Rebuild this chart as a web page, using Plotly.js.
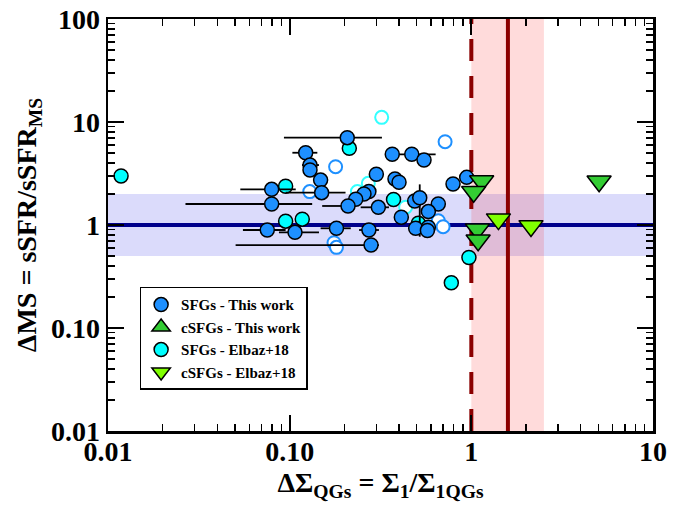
<!DOCTYPE html>
<html>
<head>
<meta charset="utf-8">
<script src="https://cdn.plot.ly/plotly-3.0.1.min.js"></script>
<style>html,body{margin:0;padding:0;background:#fff;}</style>
</head>
<body>
<div id="chart" style="width:697px;height:510px;"></div>
<script>
// ---- Data ----
// SFGs - This work (filled blue circles), with horizontal error bars
const sfgX  = [0.0796,0.0796,0.0753,0.107,0.1225,0.1294,0.1294,0.148,0.150,0.2075,0.300,0.367,0.470,0.549,0.380,0.400,0.273,0.2565,0.231,0.2095,0.3077,0.4117,0.488,0.520,0.658,0.580,0.793,0.943,0.494,0.580,0.573,0.181,0.273,0.2805];
const sfgY  = [2.22,1.60,0.894,0.849,5.03,3.82,3.42,2.73,2.06,7.04,3.11,4.86,4.86,4.28,2.80,2.60,2.11,2.00,1.78,1.53,1.485,1.19,1.71,1.84,1.60,1.35,2.50,2.90,0.929,0.950,0.885,0.929,0.894,0.639];
const sfgXlo = [0.0535,0.0267,0.0553,0.0873,0.1035,0.117,null,null,0.095,0.093,null,null,0.367,null,null,null,null,null,null,0.151,0.246,null,null,null,null,null,null,null,null,null,null,0.148,0.241,0.0504];
const sfgXhi = [0.108,0.133,0.095,0.145,0.142,0.145,null,null,0.203,0.322,null,null,0.636,null,null,null,null,null,null,0.212,0.352,null,null,null,null,null,null,null,null,null,null,0.217,0.310,0.310];
const sfgYlo = [null,null,null,null,null,null,null,null,null,null,null,null,null,null,null,null,null,null,null,null,null,null,null,0.77,null,null,null,null,null,null,null,null,null,null];
const sfgYhi = [null,null,null,null,null,null,null,null,null,null,null,null,null,null,null,null,null,null,null,null,null,null,null,2.48,null,null,null,null,null,null,null,null,null,null];

// SFGs - This work, open symbols
const sfgOpenX = [0.717,0.179,0.129,0.658,0.699,0.1754,0.181];
const sfgOpenY = [6.44,3.68,2.11,1.10,0.963,0.673,0.607];

// cSFGs - This work (green triangles)
const csfgX = [1.14,1.03,1.08,1.09,5.05];
const csfgY = [2.67,2.10,0.91,0.71,2.66];

// SFGs - Elbaz+18 (filled cyan circles)
const elbX = [0.0118,0.095,0.095,0.1173,0.213,0.373,0.511,0.97,0.776];
const elbY = [2.99,2.38,1.09,1.14,5.55,1.77,1.04,0.484,0.275];

// SFGs - Elbaz+18, open symbols
const elbOpenX = [0.321,0.271,0.236,0.435];
const elbOpenY = [11.1,2.54,2.11,1.49];

// cSFGs - Elbaz+18 (lime triangles)
const celbX = [1.41,2.13];
const celbY = [1.14,0.98];

// Reference lines / bands
const msLine = 1, msBandLo = 0.5, msBandHi = 2;
const qgDash = 1, qgLine = 1.59, qgBandHi = 2.51;

const xTickAlias = {"0.1": "0.10"};
const yTickAlias = {"0.1": "0.10"};

// ---- Build traces ----
function diffs(v, ref, sign){
  return v.map((b,i)=> b===null ? NaN : sign*(b - ref[i]));
}
function minorVals(d0, d1){
  const out = [];
  for (let e = d0; e < d1; e++) for (let m = 2; m <= 9; m++) out.push(m * Math.pow(10, e));
  return out;
}
const FONT = "Liberation Serif, Times New Roman, serif";

const traces = [
  {x: elbOpenX, y: elbOpenY, type:'scatter', mode:'markers', showlegend:false,
   marker:{symbol:'circle', size:13, color:'#ffffff', line:{color:'#33ffff', width:2}}},
  {x: sfgOpenX, y: sfgOpenY, type:'scatter', mode:'markers', showlegend:false,
   marker:{symbol:'circle', size:13, color:'#ffffff', line:{color:'#1e90ff', width:2}}},
  {x: elbX, y: elbY, type:'scatter', mode:'markers', name:'SFGs - Elbaz+18', legendrank:3,
   marker:{symbol:'circle', size:14, color:'#00ffff', line:{color:'#000', width:1.5}}},
  {x: sfgX, y: sfgY, type:'scatter', mode:'markers', name:'SFGs - This work', legendrank:1,
   marker:{symbol:'circle', size:14, color:'#1e90ff', line:{color:'#000', width:1.5}},
   error_x:{type:'data', symmetric:false, array:diffs(sfgXhi, sfgX, 1), arrayminus:diffs(sfgXlo, sfgX, -1),
            color:'#000', thickness:1.8, width:0},
   error_y:{type:'data', symmetric:false, array:diffs(sfgYhi, sfgY, 1), arrayminus:diffs(sfgYlo, sfgY, -1),
            color:'#000', thickness:1.8, width:0}},
  {x: csfgX, y: csfgY, type:'scatter', mode:'markers', showlegend:false,
   marker:{symbol:'triangle-down', size:21, color:'#33cc33', line:{color:'#000', width:1.5}}},
  {x: [null], y: [null], type:'scatter', mode:'markers', name:'cSFGs - This work', legendrank:2,
   marker:{symbol:'triangle-up', size:21, color:'#33cc33', line:{color:'#000', width:1.5}}},
  {x: celbX, y: celbY, type:'scatter', mode:'markers', name:'cSFGs - Elbaz+18', legendrank:4,
   marker:{symbol:'triangle-down', size:21, color:'#80ff00', line:{color:'#000', width:1.5}}}
];

const shapes = [
  {type:'rect', layer:'below', xref:'paper', x0:0, x1:1, yref:'y', y0:msBandLo, y1:msBandHi,
   fillcolor:'rgba(0,0,230,0.14)', line:{width:0}},
  {type:'rect', layer:'below', xref:'x', x0:qgDash, x1:qgBandHi, yref:'paper', y0:0, y1:1,
   fillcolor:'rgba(255,0,0,0.14)', line:{width:0}},
  {type:'line', layer:'below', xref:'paper', x0:0, x1:1, yref:'y', y0:msLine, y1:msLine,
   line:{color:'#00008b', width:4}},
  {type:'line', layer:'below', xref:'x', x0:qgDash, x1:qgDash, yref:'paper', y0:0, y1:1,
   line:{color:'#8b0000', width:4, dash:'22px,15px'}},
  {type:'line', layer:'below', xref:'x', x0:qgLine, x1:qgLine, yref:'paper', y0:0, y1:1,
   line:{color:'#8b0000', width:4}}
];

const axisCommon = {
  type:'log', tickmode:'linear', tick0:0, dtick:1,
  ticks:'inside', ticklen:16, tickwidth:2, tickcolor:'#000',
  showline:true, linecolor:'#000', linewidth:2.5, mirror:'allticks',
  showgrid:false, zeroline:false,
  tickfont:{family:FONT, size:28, color:'#000', weight:'bold'}
};

const layout = {
  width:697, height:510,
  margin:{l:108, r:44, t:19, b:79},
  paper_bgcolor:'#fff', plot_bgcolor:'#fff',
  font:{family:FONT, color:'#000'},
  xaxis: Object.assign({}, axisCommon, {
    range:[-2,1], labelalias:xTickAlias, ticklabelstandoff:-6,
    minor:{tickmode:'array', tickvals:minorVals(-2,1), ticks:'inside', ticklen:7, tickwidth:1.5, tickcolor:'#000', showgrid:false},
    title:{text:'ΔΣ<sub>QGs</sub> = Σ<sub>1</sub>/Σ<sub>1QGs</sub>', font:{family:FONT, size:28, weight:'bold'}, standoff:6}
  }),
  yaxis: Object.assign({}, axisCommon, {
    range:[-2,2], labelalias:yTickAlias, ticklabelstandoff:0,
    minor:{tickmode:'array', tickvals:minorVals(-2,2), ticks:'inside', ticklen:7, tickwidth:1.5, tickcolor:'#000', showgrid:false},
    title:{text:'ΔMS = sSFR/sSFR<sub>MS</sub>', font:{family:FONT, size:28, weight:'bold'}, standoff:6}
  }),
  showlegend:true,
  legend:{x:0.058, y:0.35, xanchor:'left', yanchor:'top', bgcolor:'#fff',
          bordercolor:'#000', borderwidth:1.5, traceorder:'normal',
          font:{family:FONT, size:15, color:'#000', weight:'bold'}},
  shapes: shapes
};

Plotly.newPlot('chart', traces, layout, {displayModeBar:false, staticPlot:true});
</script>
</body>
</html>
